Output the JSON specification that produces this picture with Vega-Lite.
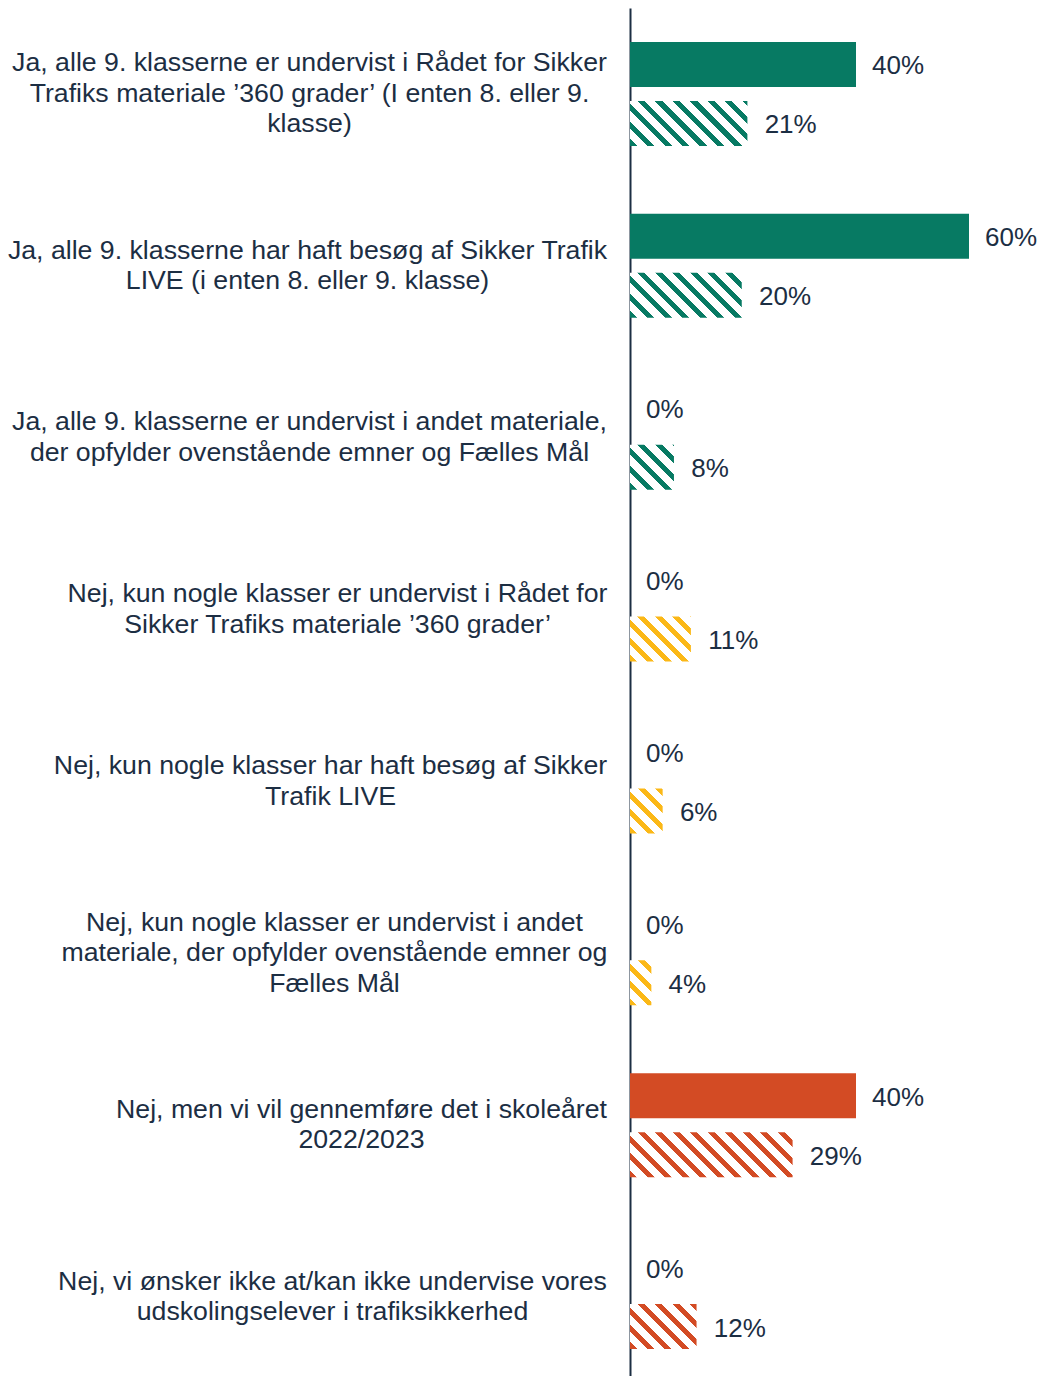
{
  "$schema": "https://vega.github.io/schema/vega-lite/v6.json",
  "width": 339,
  "height": 1375,
  "autosize": {"type": "none"},
  "padding": {"left": 630, "right": 69, "top": 8, "bottom": 0},
  "background": "#ffffff",
  "config": {"view": {"stroke": null}},
  "data": {"values": [
    {"kategori": "Ja, alle 9. klasserne er undervist i Rådet for Sikker\nTrafiks materiale ’360 grader’ (I enten 8. eller 9.\nklasse)", "gruppe": "Ja", "serie": "Serie 1", "andel": 0.40},
    {"kategori": "Ja, alle 9. klasserne er undervist i Rådet for Sikker\nTrafiks materiale ’360 grader’ (I enten 8. eller 9.\nklasse)", "gruppe": "Ja", "serie": "Serie 2", "andel": 0.21},
    {"kategori": "Ja, alle 9. klasserne har haft besøg af Sikker Trafik\nLIVE (i enten 8. eller 9. klasse)", "gruppe": "Ja", "serie": "Serie 1", "andel": 0.60},
    {"kategori": "Ja, alle 9. klasserne har haft besøg af Sikker Trafik\nLIVE (i enten 8. eller 9. klasse)", "gruppe": "Ja", "serie": "Serie 2", "andel": 0.20},
    {"kategori": "Ja, alle 9. klasserne er undervist i andet materiale,\nder opfylder ovenstående emner og Fælles Mål", "gruppe": "Ja", "serie": "Serie 1", "andel": 0.0},
    {"kategori": "Ja, alle 9. klasserne er undervist i andet materiale,\nder opfylder ovenstående emner og Fælles Mål", "gruppe": "Ja", "serie": "Serie 2", "andel": 0.08},
    {"kategori": "Nej, kun nogle klasser er undervist i Rådet for\nSikker Trafiks materiale ’360 grader’", "gruppe": "Delvist", "serie": "Serie 1", "andel": 0.0},
    {"kategori": "Nej, kun nogle klasser er undervist i Rådet for\nSikker Trafiks materiale ’360 grader’", "gruppe": "Delvist", "serie": "Serie 2", "andel": 0.11},
    {"kategori": "Nej, kun nogle klasser har haft besøg af Sikker\nTrafik LIVE", "gruppe": "Delvist", "serie": "Serie 1", "andel": 0.0},
    {"kategori": "Nej, kun nogle klasser har haft besøg af Sikker\nTrafik LIVE", "gruppe": "Delvist", "serie": "Serie 2", "andel": 0.06},
    {"kategori": "Nej, kun nogle klasser er undervist i andet\nmateriale, der opfylder ovenstående emner og\nFælles Mål", "gruppe": "Delvist", "serie": "Serie 1", "andel": 0.0},
    {"kategori": "Nej, kun nogle klasser er undervist i andet\nmateriale, der opfylder ovenstående emner og\nFælles Mål", "gruppe": "Delvist", "serie": "Serie 2", "andel": 0.04},
    {"kategori": "Nej, men vi vil gennemføre det i skoleåret\n2022/2023", "gruppe": "Nej", "serie": "Serie 1", "andel": 0.40},
    {"kategori": "Nej, men vi vil gennemføre det i skoleåret\n2022/2023", "gruppe": "Nej", "serie": "Serie 2", "andel": 0.29},
    {"kategori": "Nej, vi ønsker ikke at/kan ikke undervise vores\nudskolingselever i trafiksikkerhed", "gruppe": "Nej", "serie": "Serie 1", "andel": 0.0},
    {"kategori": "Nej, vi ønsker ikke at/kan ikke undervise vores\nudskolingselever i trafiksikkerhed", "gruppe": "Nej", "serie": "Serie 2", "andel": 0.12}
  ]},
  "encoding": {
    "y": {
      "field": "kategori", "type": "nominal", "sort": null,
      "scale": {"paddingInner": 0, "paddingOuter": 0},
      "axis": {
        "title": null, "domain": true, "domainColor": "#1c2e43", "domainWidth": 2,
        "ticks": false, "tickSize": 0, "grid": false,
        "labelAlign": "center", "labelBaseline": "middle",
        "labelPadding": {"condition": [
          {"test": "indexof(datum.value, '(I enten') >= 0", "value": 321},
          {"test": "indexof(datum.value, 'LIVE (i') >= 0", "value": 323},
          {"test": "indexof(datum.value, 'klasserne er undervist i andet') >= 0", "value": 321},
          {"test": "indexof(datum.value, 'kun nogle klasser er undervist i Rådet') >= 0", "value": 293},
          {"test": "indexof(datum.value, 'kun nogle klasser har haft') >= 0", "value": 300},
          {"test": "indexof(datum.value, 'kun nogle klasser er undervist i andet') >= 0", "value": 296},
          {"test": "indexof(datum.value, 'Nej, men') >= 0", "value": 269}
        ], "value": 298},
        "labelOffset": {"condition": {"test": "length(split(datum.value, '\\n')) === 3", "value": -30.5}, "value": -15.25},
        "labelFont": "Liberation Sans", "labelFontSize": 26.7, "labelLineHeight": 30.5,
        "labelColor": "#1c2e43", "labelLimit": 0, "labelOverlap": false,
        "labelExpr": "split(datum.label, '\\n')"
      }
    },
    "yOffset": {
      "field": "serie", "type": "nominal", "sort": null,
      "scale": {"domain": ["Serie 1", "Serie 2"], "paddingInner": 0.2373, "paddingOuter": 0.575}
    }
  },
  "layer": [
    {
      "transform": [{"filter": "datum.serie === 'Serie 1'"}],
      "mark": {"type": "bar", "stroke": null},
      "encoding": {
        "x": {"field": "andel", "type": "quantitative", "scale": {"domain": [0, 0.6], "nice": false, "zero": true}, "axis": null},
        "color": {"field": "gruppe", "type": "nominal", "legend": null,
          "scale": {"domain": ["Ja", "Delvist", "Nej"], "range": ["#077A63", "#FBB817", "#D34B24"]}}
      }
    },
    {
      "transform": [{"filter": "datum.serie === 'Serie 2' && datum.gruppe === 'Ja'"}],
      "mark": {"type": "bar", "stroke": null, "fill": {"gradient": "linear", "x1": 0, "y1": 1, "x2": 1.1822, "y2": 0.6861, "stops": [
        {"offset":0,"color":"#077A63"},{"offset":0.033,"color":"#077A63"},{"offset":0.033,"color":"#ffffff"},{"offset":0.0815,"color":"#ffffff"},
        {"offset":0.0815,"color":"#077A63"},{"offset":0.1145,"color":"#077A63"},{"offset":0.1145,"color":"#ffffff"},{"offset":0.163,"color":"#ffffff"},
        {"offset":0.163,"color":"#077A63"},{"offset":0.196,"color":"#077A63"},{"offset":0.196,"color":"#ffffff"},{"offset":0.2445,"color":"#ffffff"},
        {"offset":0.2445,"color":"#077A63"},{"offset":0.2775,"color":"#077A63"},{"offset":0.2775,"color":"#ffffff"},{"offset":0.326,"color":"#ffffff"},
        {"offset":0.326,"color":"#077A63"},{"offset":0.359,"color":"#077A63"},{"offset":0.359,"color":"#ffffff"},{"offset":0.4075,"color":"#ffffff"},
        {"offset":0.4075,"color":"#077A63"},{"offset":0.4405,"color":"#077A63"},{"offset":0.4405,"color":"#ffffff"},{"offset":0.489,"color":"#ffffff"},
        {"offset":0.489,"color":"#077A63"},{"offset":0.522,"color":"#077A63"},{"offset":0.522,"color":"#ffffff"},{"offset":0.5705,"color":"#ffffff"},
        {"offset":0.5705,"color":"#077A63"},{"offset":0.6035,"color":"#077A63"},{"offset":0.6035,"color":"#ffffff"},{"offset":0.652,"color":"#ffffff"},
        {"offset":0.652,"color":"#077A63"},{"offset":0.685,"color":"#077A63"},{"offset":0.685,"color":"#ffffff"},{"offset":0.7335,"color":"#ffffff"},
        {"offset":0.7335,"color":"#077A63"},{"offset":0.7665,"color":"#077A63"},{"offset":0.7665,"color":"#ffffff"},{"offset":0.815,"color":"#ffffff"},
        {"offset":0.815,"color":"#077A63"},{"offset":0.848,"color":"#077A63"},{"offset":0.848,"color":"#ffffff"},{"offset":0.8965,"color":"#ffffff"},
        {"offset":0.8965,"color":"#077A63"},{"offset":0.9295,"color":"#077A63"},{"offset":0.9295,"color":"#ffffff"},{"offset":0.978,"color":"#ffffff"},
        {"offset":0.978,"color":"#077A63"},{"offset":1,"color":"#077A63"}]}},
      "encoding": {"x": {"datum": 0}, "x2": {"datum": 0.3}}
    },
    {
      "transform": [{"filter": "datum.serie === 'Serie 2' && datum.gruppe === 'Delvist'"}],
      "mark": {"type": "bar", "stroke": null, "fill": {"gradient": "linear", "x1": 0, "y1": 1, "x2": 1.1822, "y2": 0.6861, "stops": [
        {"offset":0,"color":"#FBB817"},{"offset":0.033,"color":"#FBB817"},{"offset":0.033,"color":"#ffffff"},{"offset":0.0815,"color":"#ffffff"},
        {"offset":0.0815,"color":"#FBB817"},{"offset":0.1145,"color":"#FBB817"},{"offset":0.1145,"color":"#ffffff"},{"offset":0.163,"color":"#ffffff"},
        {"offset":0.163,"color":"#FBB817"},{"offset":0.196,"color":"#FBB817"},{"offset":0.196,"color":"#ffffff"},{"offset":0.2445,"color":"#ffffff"},
        {"offset":0.2445,"color":"#FBB817"},{"offset":0.2775,"color":"#FBB817"},{"offset":0.2775,"color":"#ffffff"},{"offset":0.326,"color":"#ffffff"},
        {"offset":0.326,"color":"#FBB817"},{"offset":0.359,"color":"#FBB817"},{"offset":0.359,"color":"#ffffff"},{"offset":0.4075,"color":"#ffffff"},
        {"offset":0.4075,"color":"#FBB817"},{"offset":0.4405,"color":"#FBB817"},{"offset":0.4405,"color":"#ffffff"},{"offset":0.489,"color":"#ffffff"},
        {"offset":0.489,"color":"#FBB817"},{"offset":0.522,"color":"#FBB817"},{"offset":0.522,"color":"#ffffff"},{"offset":0.5705,"color":"#ffffff"},
        {"offset":0.5705,"color":"#FBB817"},{"offset":0.6035,"color":"#FBB817"},{"offset":0.6035,"color":"#ffffff"},{"offset":0.652,"color":"#ffffff"},
        {"offset":0.652,"color":"#FBB817"},{"offset":0.685,"color":"#FBB817"},{"offset":0.685,"color":"#ffffff"},{"offset":0.7335,"color":"#ffffff"},
        {"offset":0.7335,"color":"#FBB817"},{"offset":0.7665,"color":"#FBB817"},{"offset":0.7665,"color":"#ffffff"},{"offset":0.815,"color":"#ffffff"},
        {"offset":0.815,"color":"#FBB817"},{"offset":0.848,"color":"#FBB817"},{"offset":0.848,"color":"#ffffff"},{"offset":0.8965,"color":"#ffffff"},
        {"offset":0.8965,"color":"#FBB817"},{"offset":0.9295,"color":"#FBB817"},{"offset":0.9295,"color":"#ffffff"},{"offset":0.978,"color":"#ffffff"},
        {"offset":0.978,"color":"#FBB817"},{"offset":1,"color":"#FBB817"}]}},
      "encoding": {"x": {"datum": 0}, "x2": {"datum": 0.3}}
    },
    {
      "transform": [{"filter": "datum.serie === 'Serie 2' && datum.gruppe === 'Nej'"}],
      "mark": {"type": "bar", "stroke": null, "fill": {"gradient": "linear", "x1": 0, "y1": 1, "x2": 1.1822, "y2": 0.6861, "stops": [
        {"offset":0,"color":"#D34B24"},{"offset":0.033,"color":"#D34B24"},{"offset":0.033,"color":"#ffffff"},{"offset":0.0815,"color":"#ffffff"},
        {"offset":0.0815,"color":"#D34B24"},{"offset":0.1145,"color":"#D34B24"},{"offset":0.1145,"color":"#ffffff"},{"offset":0.163,"color":"#ffffff"},
        {"offset":0.163,"color":"#D34B24"},{"offset":0.196,"color":"#D34B24"},{"offset":0.196,"color":"#ffffff"},{"offset":0.2445,"color":"#ffffff"},
        {"offset":0.2445,"color":"#D34B24"},{"offset":0.2775,"color":"#D34B24"},{"offset":0.2775,"color":"#ffffff"},{"offset":0.326,"color":"#ffffff"},
        {"offset":0.326,"color":"#D34B24"},{"offset":0.359,"color":"#D34B24"},{"offset":0.359,"color":"#ffffff"},{"offset":0.4075,"color":"#ffffff"},
        {"offset":0.4075,"color":"#D34B24"},{"offset":0.4405,"color":"#D34B24"},{"offset":0.4405,"color":"#ffffff"},{"offset":0.489,"color":"#ffffff"},
        {"offset":0.489,"color":"#D34B24"},{"offset":0.522,"color":"#D34B24"},{"offset":0.522,"color":"#ffffff"},{"offset":0.5705,"color":"#ffffff"},
        {"offset":0.5705,"color":"#D34B24"},{"offset":0.6035,"color":"#D34B24"},{"offset":0.6035,"color":"#ffffff"},{"offset":0.652,"color":"#ffffff"},
        {"offset":0.652,"color":"#D34B24"},{"offset":0.685,"color":"#D34B24"},{"offset":0.685,"color":"#ffffff"},{"offset":0.7335,"color":"#ffffff"},
        {"offset":0.7335,"color":"#D34B24"},{"offset":0.7665,"color":"#D34B24"},{"offset":0.7665,"color":"#ffffff"},{"offset":0.815,"color":"#ffffff"},
        {"offset":0.815,"color":"#D34B24"},{"offset":0.848,"color":"#D34B24"},{"offset":0.848,"color":"#ffffff"},{"offset":0.8965,"color":"#ffffff"},
        {"offset":0.8965,"color":"#D34B24"},{"offset":0.9295,"color":"#D34B24"},{"offset":0.9295,"color":"#ffffff"},{"offset":0.978,"color":"#ffffff"},
        {"offset":0.978,"color":"#D34B24"},{"offset":1,"color":"#D34B24"}]}},
      "encoding": {"x": {"datum": 0}, "x2": {"datum": 0.3}}
    },
    {
      "transform": [{"filter": "datum.serie === 'Serie 2'"}],
      "mark": {"type": "bar", "fill": "#ffffff", "stroke": "#ffffff", "strokeWidth": 2.5},
      "encoding": {"x": {"field": "andel", "type": "quantitative"}, "x2": {"datum": 0.3}}
    },
    {
      "mark": {"type": "text", "align": "left", "baseline": "middle", "dx": 16, "dy": 2, "font": "Liberation Sans", "fontSize": 26, "color": "#1c2e43"},
      "encoding": {
        "x": {"field": "andel", "type": "quantitative"},
        "text": {"field": "andel", "type": "quantitative", "format": ".0%"}
      }
    }
  ]
}
